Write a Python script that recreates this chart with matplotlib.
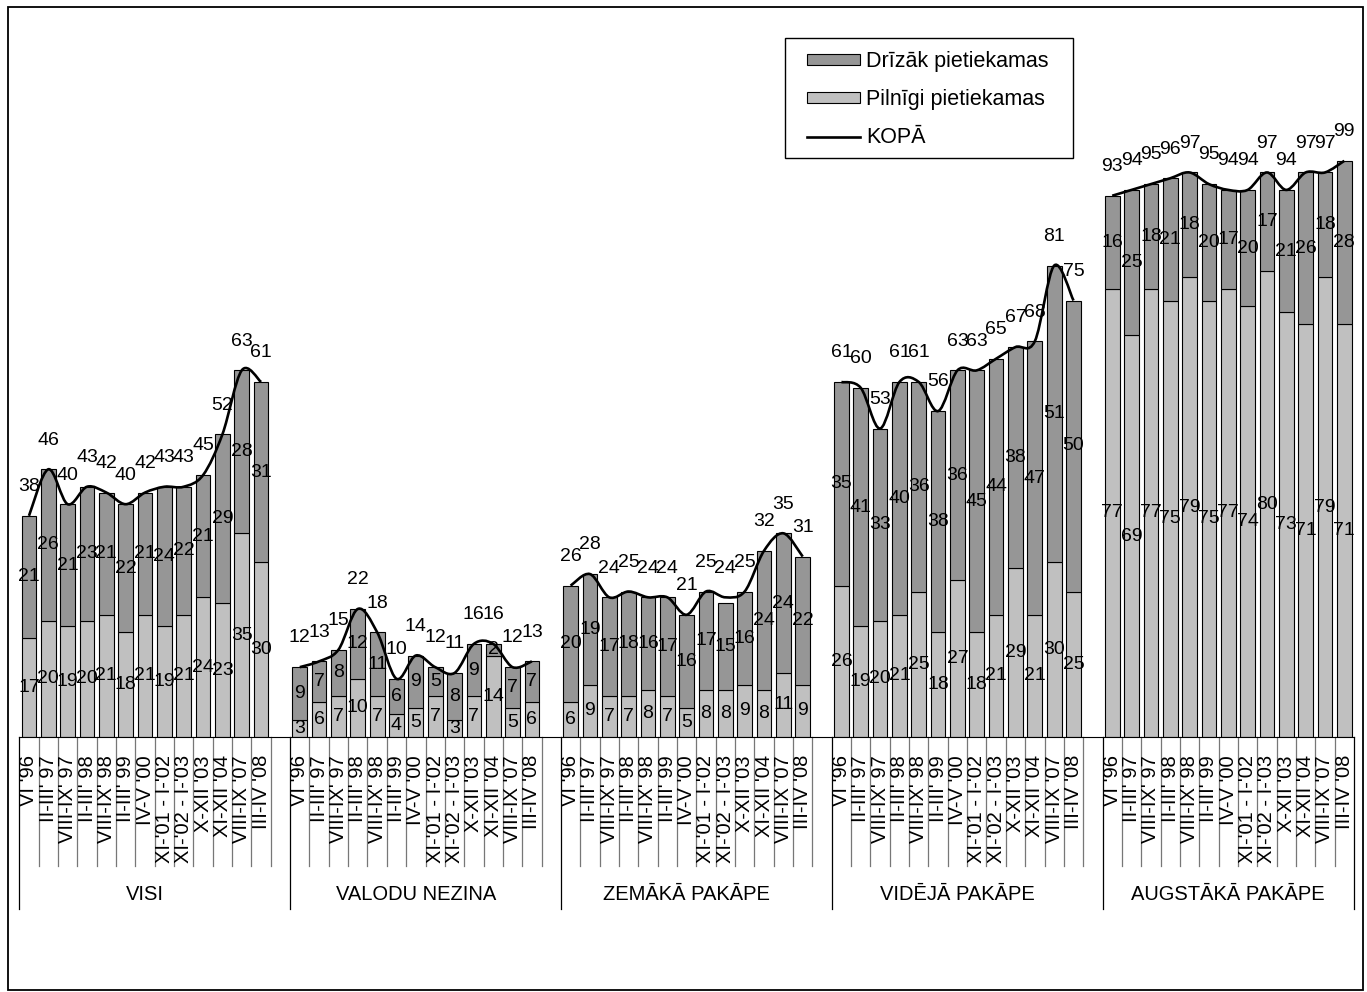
import matplotlib
matplotlib.use('Agg')
import matplotlib.pyplot as plt
import matplotlib.transforms as mtransforms
from matplotlib.path import Path
from matplotlib.patches import PathPatch, Rectangle, Patch
from matplotlib.lines import Line2D
import numpy as np

plt.rcParams['font.family'] = ['Liberation Sans', 'DejaVu Sans']

# dati
periodi = ["VI '96", "II-III' 97", "VIII-IX' 97", "II-III' 98", "VIII-IX' 98",
           "II-III' 99", "IV-V '00", "XI-'01 - I-'02", "XI-'02 - I-'03",
           "X-XII '03", "XI-XII '04", "VIII-IX '07", "III-IV '08"]
grupas = ['VISI', 'VALODU NEZINA', 'ZEMĀKĀ PAKĀPE', 'VIDĒJĀ PAKĀPE', 'AUGSTĀKĀ PAKĀPE']

pilnigi = [
    [17, 20, 19, 20, 21, 18, 21, 19, 21, 24, 23, 35, 30],
    [3, 6, 7, 10, 7, 4, 5, 7, 3, 7, 14, 5, 6],
    [6, 9, 7, 7, 8, 7, 5, 8, 8, 9, 8, 11, 9],
    [26, 19, 20, 21, 25, 18, 27, 18, 21, 29, 21, 30, 25],
    [77, 69, 77, 75, 79, 75, 77, 74, 80, 73, 71, 79, 71],
]
drizak = [
    [21, 26, 21, 23, 21, 22, 21, 24, 22, 21, 29, 28, 31],
    [9, 7, 8, 12, 11, 6, 9, 5, 8, 9, 2, 7, 7],
    [20, 19, 17, 18, 16, 17, 16, 17, 15, 16, 24, 24, 22],
    [35, 41, 33, 40, 36, 38, 36, 45, 44, 38, 47, 51, 50],
    [16, 25, 18, 21, 18, 20, 17, 20, 17, 21, 26, 18, 28],
]
kopa = [
    [38, 46, 40, 43, 42, 40, 42, 43, 43, 45, 52, 63, 61],
    [12, 13, 15, 22, 18, 10, 14, 12, 11, 16, 16, 12, 13],
    [26, 28, 24, 25, 24, 24, 21, 25, 24, 25, 32, 35, 31],
    [61, 60, 53, 61, 61, 56, 63, 63, 65, 67, 68, 81, 75],
    [93, 94, 95, 96, 97, 95, 94, 94, 97, 94, 97, 97, 99],
]

W, H = 1367, 992
tumss = '#969696'
gaiss = '#c0c0c0'

fig = plt.figure(figsize=(W / 100, H / 100), dpi=100)
ax = fig.add_axes([19.3 / W, 1 - 737 / H, (1354 - 19.3) / W, (737 - 38.6) / H])

for g in range(len(grupas)):
    x = np.arange(len(periodi)) + g * 14
    ax.bar(x, pilnigi[g], width=0.76, color=gaiss, edgecolor='black', lw=0.8)
    ax.bar(x, drizak[g], bottom=pilnigi[g], width=0.76, color=tumss,
           edgecolor='black', lw=0.8)
    for xi, p, d, k in zip(x, pilnigi[g], drizak[g], kopa[g]):
        ax.text(xi, p / 2, str(p), ha='center', va='center', fontsize=14, zorder=5)
        ax.text(xi, p + d / 2, str(d), ha='center', va='center', fontsize=14, zorder=5)
        ax.annotate(str(k), (xi, k), xytext=(0, 21), textcoords='offset points',
                    ha='center', va='center', fontsize=14, zorder=5)

    # izlīdzināta KOPĀ līnija (Bezjē līknes caur punktiem)
    pts = np.column_stack([x, kopa[g]]).astype(float)
    verts = [pts[0]]
    codes = [Path.MOVETO]
    n = len(pts)
    for i in range(n - 1):
        p0 = pts[max(i - 1, 0)]
        p1 = pts[i]
        p2 = pts[i + 1]
        p3 = pts[min(i + 2, n - 1)]
        verts += [p1 + (p2 - p0) / 6, p2 - (p3 - p1) / 6, p2]
        codes += [Path.CURVE4] * 3
    ax.add_patch(PathPatch(Path(verts, codes), fill=False, lw=1.9,
                           ec='black', zorder=4))

ax.set_xlim(-0.5, 68.5)
ax.set_ylim(0, 120)
ax.set_xticks([])
ax.set_yticks([])
for s in ['left', 'right', 'top']:
    ax.spines[s].set_visible(False)
ax.spines['bottom'].set_linewidth(0.8)

# kategoriju ass apakšā
trans = mtransforms.blended_transform_factory(ax.transData, fig.transFigure)
y0 = 1 - 737 / H
y1 = 1 - 866 / H
y2 = 1 - 909 / H
robezas = [-0.5, 13.5, 27.5, 41.5, 55.5, 68.5]
for b in np.arange(70) - 0.5:
    if b in robezas:
        ax.plot([b, b], [y0, y2], transform=trans, color='black', lw=0.9, clip_on=False)
    else:
        ax.plot([b, b], [y0, y1], transform=trans, color='#777777', lw=0.9, clip_on=False)

for g, nosaukums in enumerate(grupas):
    for i, lab in enumerate(periodi):
        ax.text(g * 14 + i, 1 - 755 / H, lab, transform=trans, rotation=90,
                ha='center', va='top', fontsize=14.5)
    ax.text(g * 14 + 6, 1 - 895 / H, nosaukums, transform=trans,
            ha='center', va='center', fontsize=14.5)

# leģenda ar atsevišķu rāmi
handles = [Patch(fc=tumss, ec='black', lw=0.8, label='Drīzāk pietiekamas'),
           Patch(fc=gaiss, ec='black', lw=0.8, label='Pilnīgi pietiekamas'),
           Line2D([], [], color='black', lw=1.9, label='KOPĀ')]
fig.legend(handles=handles, loc='upper left',
           bbox_to_anchor=(807 / W, 1 - 51 / H), frameon=False,
           fontsize=15.5, handlelength=2.45, handleheight=0.38,
           handletextpad=0.28, labelspacing=0.8, borderpad=0, borderaxespad=0)
fig.patches.append(Rectangle((785 / W, 1 - 158 / H), (1073 - 785) / W, 120 / H,
                             transform=fig.transFigure, fill=False,
                             ec='black', lw=1.0))

fig.patches.append(Rectangle((8 / W, 1 - 990 / H), (1363 - 8) / W, (990 - 7) / H,
                             transform=fig.transFigure, fill=False,
                             ec='black', lw=1.3))

fig.savefig('out.png', dpi=100)
